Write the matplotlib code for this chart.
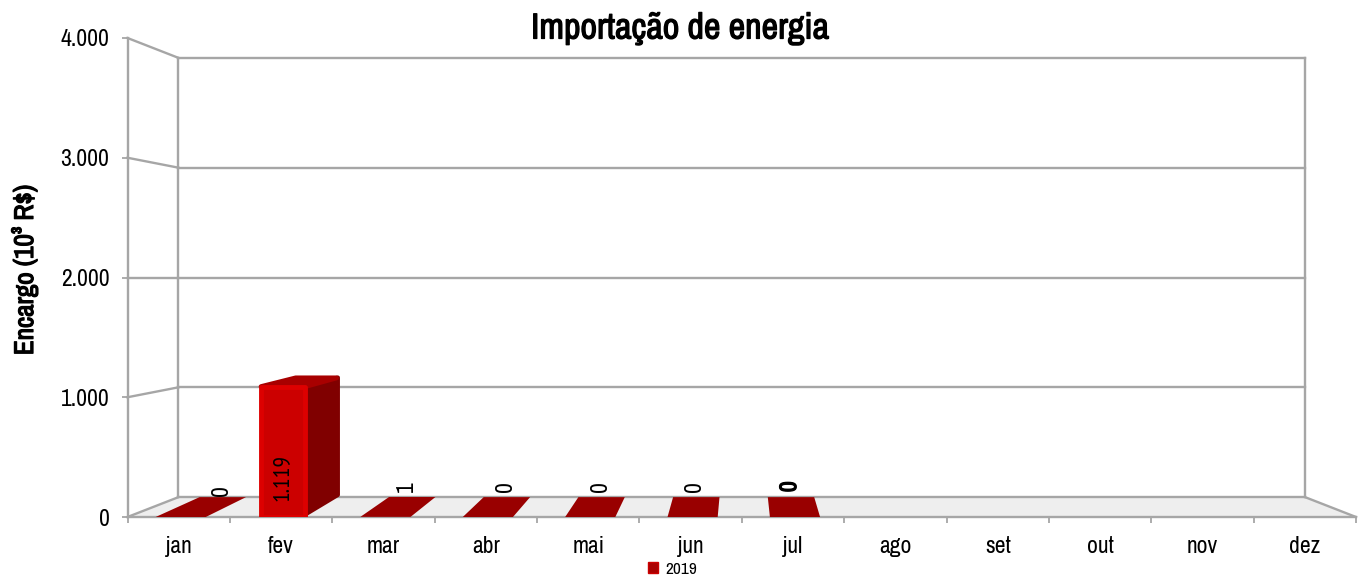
import matplotlib
matplotlib.use("Agg")
import matplotlib.pyplot as plt
from matplotlib.patches import Polygon, Patch
import matplotlib.patheffects as pe

months = ["jan", "fev", "mar", "abr", "mai", "jun", "jul", "ago", "set", "out", "nov", "dez"]
values_2019 = [0, 1119, 1, 0, 0, 0, 0]
value_labels = ["0", "1.119", "1", "0", "0", "0", "0"]
y_ticks = [0, 1000, 2000, 3000, 4000]
y_tick_labels = ["0", "1.000", "2.000", "3.000", "4.000"]
series_name = "2019"

plt.rcParams["font.family"] = ["Archivo Narrow", "Liberation Sans", "DejaVu Sans"]

W, H = 1362, 580
GRID = "#a6a6a6"
SCALE = 0.917
BAR_SCALE_X = 0.925
XC, YC = 6.0, 2000.0
BAR_W = 0.49
BAR_OFF = 0.52
TICK_FS = 17
BOLD = [pe.withStroke(linewidth=0.9, foreground="black")]


def proj(x, v, d=0.0, sx=SCALE):
    s = 1 - (1 - SCALE) * d
    sxd = 1 - (1 - sx) * d
    return XC + (x - XC) * sxd, YC + (v - YC) * s


def bproj(x, v, d=0.0):
    return proj(x, v, d, BAR_SCALE_X)


fig = plt.figure(figsize=(W / 100, H / 100), dpi=100)
ax = fig.add_axes([127.5 / W, 1 - 517 / H, (1356 - 127.5) / W, (517 - 38) / H])
ax.set_xlim(0, 12)
ax.set_ylim(0, 4000)

# Floor
n = len(months)
ax.add_patch(Polygon([proj(0, 0, 0), proj(n, 0, 0), proj(n, 0, 1), proj(0, 0, 1)],
                     closed=True, fc="#eeeeee", ec="none", zorder=1))

lw = 1.7
for v in y_ticks:
    ax.plot(*zip(proj(0, v, 1), proj(n, v, 1)), color=GRID, lw=lw, zorder=2, clip_on=False)
    ax.plot(*zip(proj(0, v, 0), proj(0, v, 1)), color=GRID, lw=lw, zorder=2, clip_on=False)
ax.plot(*zip(proj(0, 0, 1), proj(0, 4000, 1)), color=GRID, lw=lw, zorder=2)
ax.plot(*zip(proj(n, 0, 1), proj(n, 4000, 1)), color=GRID, lw=lw, zorder=2)
ax.plot(*zip(proj(n, 0, 0), proj(n, 0, 1)), color=GRID, lw=lw, zorder=2, clip_on=False)

# Bars
for i, v in enumerate(values_2019):
    x0 = i + BAR_OFF - BAR_W / 2
    x1 = i + BAR_OFF + BAR_W / 2
    top = [bproj(x0, v, 0), bproj(x1, v, 0), bproj(x1, v, 1), bproj(x0, v, 1)]
    if v < 100:
        ax.add_patch(Polygon(top, closed=True, fc="#990000", ec="none", zorder=3))
        continue
    ex, ev = 0.03, 30
    d1 = 0.96
    side = [bproj(x1 - ex, 20, 0), bproj(x1 - ex, 20, 1),
            bproj(x1 - ex, v - ev, 1), bproj(x1 - ex, v - ev, 0)]
    ax.add_patch(Polygon(side, closed=True, fc="#800000", ec="#800000", lw=3,
                         joinstyle="round", zorder=3))
    ax.add_patch(Polygon([bproj(x0 + ex, v - ev, 0), bproj(x1 - ex, v - ev, 0),
                          bproj(x1 - ex, v - ev, d1), bproj(x0 + ex, v - ev, d1)],
                         closed=True, fc="#a80000", ec="#a80000", lw=3.5,
                         joinstyle="round", zorder=4))
    ax.add_patch(Polygon([(x0 + ex, 0), (x1 - ex, 0), (x1 - ex, v - ev), (x0 + ex, v - ev)],
                         closed=True, fc="#cc0000", ec="#dd0000", lw=3.5,
                         joinstyle="round", zorder=5))

# Value labels
for i, (v, lab) in enumerate(zip(values_2019, value_labels)):
    if v > 100:
        ax.text(i + BAR_OFF - 0.01, 334, lab, rotation=90, ha="center", va="center",
                fontsize=17, color="black", zorder=6,
                family=["PT Sans Narrow", "Liberation Sans", "DejaVu Sans"])
    else:
        px, py = bproj(i + BAR_OFF, v, 1)
        dy = 0 if i == 0 else 4
        dx = -6 if lab == "1" else -1.5
        t = ax.annotate(lab, (px, py), xytext=(dx, 1 + dy), textcoords="offset pixels",
                        rotation=90, ha="center", va="bottom", fontsize=TICK_FS,
                        color="black", zorder=6)
        if i == 6:
            t.set_path_effects(BOLD)

# Axes
for s in ("top", "right"):
    ax.spines[s].set_visible(False)
for s in ("left", "bottom"):
    ax.spines[s].set_color(GRID)
    ax.spines[s].set_linewidth(lw)
ax.patch.set_alpha(0)
ax.set_yticks(y_ticks)
ax.set_yticklabels(y_tick_labels)
ax.set_xticks(range(n + 1))
ax.set_xticklabels([])
ax.set_xticks([i + 0.5 for i in range(n)], months, minor=True)
ax.tick_params(axis="both", which="major", color=GRID, width=1.3, length=4)
ax.tick_params(axis="y", labelsize=TICK_FS, pad=9)
ax.tick_params(axis="x", which="minor", length=0, labelsize=TICK_FS, pad=14)

fig.text(680 / W, 1 - 28 / H, "Importação de energia", ha="center", va="center",
         fontsize=26, fontweight="bold", path_effects=BOLD)
fig.text(25 / W, 1 - 270 / H, "Encargo (10³ R$)", rotation=90, ha="center", va="center",
         fontsize=19.5, fontweight="bold", path_effects=BOLD)

fig.legend(handles=[Patch(fc="#aa0000", ec="#cc0000", label=series_name)], loc="center",
           bbox_to_anchor=(672.5 / W, 1 - 569 / H), frameon=False, fontsize=12.5,
           handlelength=0.6, handleheight=0.6, handletextpad=0.4, borderpad=0, borderaxespad=0)

fig.savefig("out.png", dpi=100)
